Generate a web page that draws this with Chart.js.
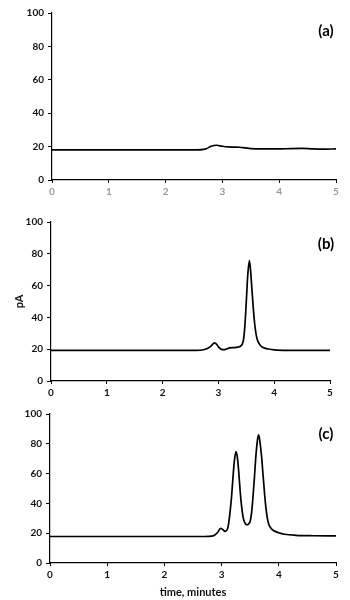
<!DOCTYPE html>
<html>
<head>
<meta charset="utf-8">
<script src="https://cdn.jsdelivr.net/npm/chart.js@4.4.1/dist/chart.umd.min.js"></script>
<style>
  body { margin: 0; background: #fff; }
  #wrap { position: relative; width: 350px; height: 600px; }
  canvas { position: absolute; left: 0; }
  .tag { position: absolute; font: bold 15px Lato, sans-serif; color: #000; transform: translate(-50%, -50%); }
</style>
</head>
<body>
<div id="wrap">
  <canvas id="chartA" width="350" height="200" style="top:0px"></canvas>
  <canvas id="chartB" width="350" height="200" style="top:200px"></canvas>
  <canvas id="chartC" width="350" height="200" style="top:400px"></canvas>
  <div class="tag" style="left:326px;top:30px">(a)</div>
  <div class="tag" style="left:326px;top:243px">(b)</div>
  <div class="tag" style="left:326px;top:433px">(c)</div>
</div>
<script>
// time in minutes, signal in pA
const timeA = [0, 2.5, 2.7, 2.8, 2.9, 3.0, 3.1, 3.2, 3.3, 3.4, 3.5, 3.7, 4.0, 4.2, 4.4, 4.6, 4.8, 5.0];
const signalA = [18, 18, 18.5, 20.2, 20.8, 20.2, 19.8, 19.7, 19.6, 19.2, 18.8, 18.6, 18.6, 18.8, 18.9, 18.6, 18.5, 18.6];

const timeB = [0, 2.6, 2.75, 2.85, 2.9, 2.93, 2.97, 3.0, 3.05, 3.1, 3.15, 3.2, 3.3, 3.35, 3.4, 3.425, 3.45, 3.475, 3.5, 3.525, 3.555, 3.575, 3.6, 3.625, 3.65, 3.675, 3.7, 3.75, 3.8, 3.9, 4.0, 4.3, 5.0];
const signalB = [19.2, 19.2, 19.8, 21.5, 23.2, 24, 23, 21.5, 20, 19.7, 20.2, 20.8, 21, 21.3, 22, 23, 26, 35, 50, 66, 75.8, 70, 58, 46, 36, 29.5, 25.7, 22.5, 21, 20.1, 19.6, 19.3, 19.2];

const timeC = [0, 2.7, 2.85, 2.93, 2.98, 3.02, 3.06, 3.1, 3.125, 3.15, 3.175, 3.2, 3.225, 3.25, 3.275, 3.3, 3.325, 3.35, 3.375, 3.4, 3.425, 3.45, 3.475, 3.5, 3.525, 3.55, 3.575, 3.6, 3.625, 3.645, 3.66, 3.675, 3.7, 3.725, 3.75, 3.775, 3.8, 3.825, 3.85, 3.9, 4.0, 4.1, 4.3, 4.6, 5.0];
const signalC = [17.8, 17.8, 18.2, 20.5, 23.3, 22.5, 21.2, 22.5, 27, 35, 45, 58, 69, 74.8, 71, 61, 48, 38, 31, 27.5, 26, 25.7, 26.3, 28, 34, 45, 58, 72, 82, 86, 84, 80, 71, 59, 47, 37, 30, 26, 24, 22, 20.3, 19.3, 18.6, 18.3, 18.2];

const yTicks = [0, 20, 40, 60, 80, 100];
const xTicks = [0, 1, 2, 3, 4, 5];

const tickFont = { family: 'Lato', size: 10, weight: 'bold' };

function makeChart(id, times, values, opt) {
  const ctx = document.getElementById(id).getContext('2d');
  return new Chart(ctx, {
    type: 'line',
    data: {
      datasets: [{
        data: times.map((t, i) => ({ x: t, y: values[i] })),
        borderColor: '#000',
        borderWidth: 1.7,
        pointRadius: 0,
        cubicInterpolationMode: 'monotone',
        fill: false
      }]
    },
    options: {
      responsive: false,
      animation: false,
      devicePixelRatio: 1,
      layout: { padding: { top: opt.top, right: opt.right, left: 0, bottom: 0 } },
      plugins: { legend: { display: false }, tooltip: { enabled: false } },
      scales: {
        x: {
          type: 'linear',
          min: 0, max: 5,
          afterBuildTicks: (s) => { s.ticks = xTicks.map(v => ({ value: v })); },
          afterFit: (s) => { s.height = opt.xh; },
          grid: { drawOnChartArea: false, color: '#000', tickLength: 3 },
          border: { color: '#000', width: 1.2 },
          ticks: { color: opt.xTickColor, font: tickFont, padding: 3 },
          title: opt.xTitle ? { display: true, text: opt.xTitle, color: '#111', font: { family: 'Lato', size: 11, weight: 'bold' }, padding: { top: 0, bottom: 1 } } : { display: false }
        },
        y: {
          min: 0, max: 100,
          afterBuildTicks: (s) => { s.ticks = yTicks.map(v => ({ value: v })); },
          afterFit: (s) => { s.width = opt.yw; },
          grid: { drawOnChartArea: false, color: '#000', tickLength: 4 },
          border: { color: '#000', width: 1.2 },
          ticks: { color: '#111', font: tickFont, padding: 4 },
          title: opt.yTitle ? { display: true, text: opt.yTitle, color: '#111', font: { family: 'Lato', size: 11, weight: 'bold' }, padding: { top: 13, bottom: 0 } } : { display: false }
        }
      }
    }
  });
}

makeChart('chartA', timeA, signalA, { top: 13, right: 14, yw: 52, xh: 20, xTickColor: '#999' });
makeChart('chartB', timeB, signalB, { top: 22, right: 20, yw: 51, xh: 19, xTickColor: '#111', yTitle: 'pA' });
makeChart('chartC', timeC, signalC, { top: 14, right: 14, yw: 50, xh: 37, xTickColor: '#111', xTitle: 'time, minutes' });
</script>
</body>
</html>
